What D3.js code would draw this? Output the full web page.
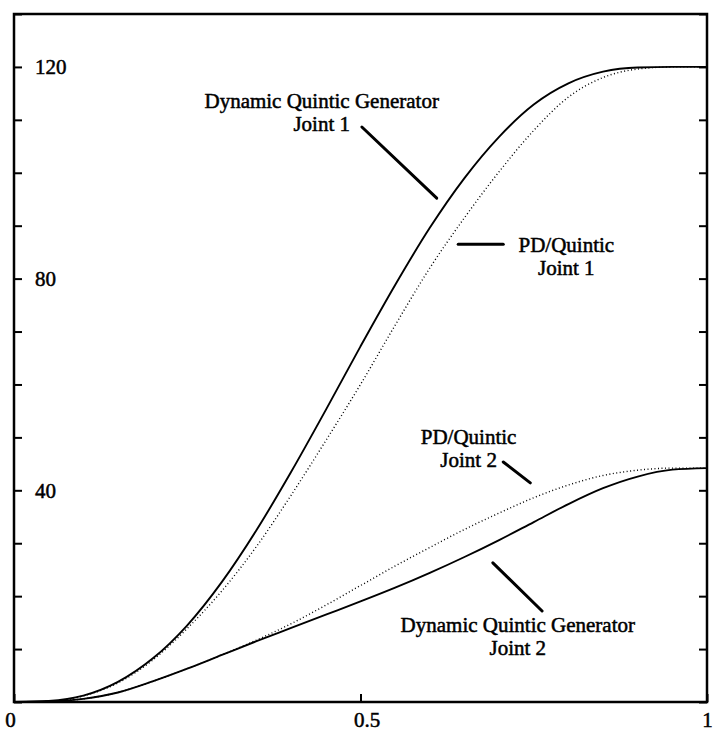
<!DOCTYPE html>
<html>
<head>
<meta charset="utf-8">
<script src="https://cdn.jsdelivr.net/npm/d3@7"></script>
<style>
  html, body { margin: 0; padding: 0; background: #fff; }
  svg text { font-family: "Liberation Serif", "Times New Roman", serif; fill: #000; }
</style>
</head>
<body>
<svg id="chart" width="728" height="732"></svg>
<script>
// time (normalised) samples
const times = [0, 0.05, 0.1, 0.15, 0.2, 0.25, 0.3, 0.35, 0.4, 0.45, 0.5,
               0.55, 0.6, 0.65, 0.7, 0.75, 0.8, 0.85, 0.9, 0.95, 1];

// joint angles
const dynJoint1 = [0, 0.2, 1.2, 3.8, 8.2, 14.5, 22.7, 32.5, 43.5, 55.2, 67.2,
                   78.8, 89.6, 99.0, 106.8, 112.9, 116.9, 119.1, 119.9, 120, 120];
const pdJoint1  = [0, 0.1, 1.15, 3.6, 7.9, 13.9, 21.0, 29.4, 39.1, 49.4, 60.0,
                   71.2, 82.0, 91.5, 100.2, 108.0, 114.3, 118.0, 119.6, 120, 120];
const dynJoint2 = [0, 0.1, 0.6, 1.8, 3.9, 6.3, 8.9, 11.5, 14.0, 16.5, 19.0,
                   21.6, 24.4, 27.4, 30.6, 34.0, 37.4, 40.4, 42.6, 43.9, 44.2];
const pdJoint2  = [0, 0.1, 0.6, 1.8, 3.9, 6.3, 8.9, 11.7, 14.8, 18.3, 22.0,
                   25.7, 29.2, 32.6, 35.7, 38.6, 41.0, 42.8, 43.8, 44.2, 44.2];

const xTicks = [0, 0.5, 1];
const yTicks = d3.range(0, 131, 10);
const yLabels = [40, 80, 120];

const svg = d3.select('#chart');
const m = {left: 14, right: 707, top: 14, bottom: 702};

const x = d3.scaleLinear().domain([0, 1]).range([m.left, m.right]);
const y = d3.scaleLinear().domain([0, 130]).range([m.bottom, m.top]);

// axes (ticks point inward)
const fmtX = d => d === 0 ? '0' : d === 1 ? '1' : d3.format('.1f')(d);

svg.append('g')
    .attr('transform', `translate(0,${m.bottom})`)
    .call(d3.axisBottom(x).tickValues(xTicks).tickSizeInner(-8).tickSizeOuter(0).tickPadding(10).tickFormat(fmtX))
    .call(g => g.select('.domain').remove())
    .call(g => g.selectAll('text').attr('font-size', 21).attr('font-family', null).attr('stroke', '#000').attr('stroke-width', 0.5))
    .call(g => g.selectAll('text').filter(d => d === 0).attr('dx', -4))
    .call(g => g.selectAll('text').filter(d => d === 0.5).attr('dx', 6))
    .call(g => g.selectAll('line').attr('stroke-width', 2));

svg.append('g')
    .attr('transform', `translate(${m.left},0)`)
    .call(d3.axisRight(y).tickValues(yTicks).tickSize(8).tickPadding(13)
        .tickFormat(d => yLabels.includes(d) ? d : ''))
    .call(g => g.select('.domain').remove())
    .call(g => g.selectAll('text').attr('font-size', 21).attr('font-family', null).attr('stroke', '#000').attr('stroke-width', 0.5))
    .call(g => g.selectAll('line').attr('stroke-width', 2));

svg.append('g')
    .attr('transform', `translate(${m.right},0)`)
    .call(d3.axisLeft(y).tickValues(yTicks).tickSize(8).tickFormat(''))
    .call(g => g.select('.domain').remove())
    .call(g => g.selectAll('line').attr('stroke-width', 2));

// frame
svg.append('rect')
    .attr('x', m.left).attr('y', m.top)
    .attr('width', m.right - m.left).attr('height', m.bottom - m.top)
    .attr('fill', 'none').attr('stroke', '#000').attr('stroke-width', 2.5);

// curves
const line = d3.line()
    .x((d, i) => x(times[i]))
    .y(d => y(d))
    .curve(d3.curveMonotoneX);

const series = [
    {vals: dynJoint1, dash: null, w: 1.9},
    {vals: pdJoint1, dash: '1,2.5', w: 1.4},
    {vals: dynJoint2, dash: null, w: 1.9},
    {vals: pdJoint2, dash: '1,2.5', w: 1.4}
];

svg.selectAll('path.curve')
    .data(series)
    .join('path')
    .attr('class', 'curve')
    .attr('d', d => line(d.vals))
    .attr('fill', 'none')
    .attr('stroke', '#000')
    .attr('stroke-width', d => d.w)
    .attr('stroke-dasharray', d => d.dash);

// annotations (in data units)
const notes = [
    {t: 0.444, v: 112.05, lines: ['Dynamic Quintic Generator', 'Joint 1']},
    {t: 0.797, v: 84.8, lines: ['PD/Quintic', 'Joint 1']},
    {t: 0.656, v: 48.6, lines: ['PD/Quintic', 'Joint 2']},
    {t: 0.727, v: 13.0, lines: ['Dynamic Quintic Generator', 'Joint 2']}
];
const leaders = [
    [[0.502, 108.65], [0.610, 95.2]],
    [[0.641, 86.5], [0.706, 86.5]],
    [[0.706, 45.35], [0.745, 41.4]],
    [[0.691, 26.3], [0.762, 17.2]]
];

// each note line is its own text element
const noteLines = notes.flatMap(n => n.lines.map((s, i) => ({t: n.t, v: n.v, s, i})));

svg.selectAll('text.note')
    .data(noteLines)
    .join('text')
    .attr('class', 'note')
    .attr('text-anchor', 'middle')
    .attr('font-size', 21)
    .attr('stroke', '#000')
    .attr('stroke-width', 0.5)
    .attr('x', d => x(d.t))
    .attr('y', d => y(d.v) + (d.i === 0 ? -1 : 22))
    .text(d => d.s);

svg.selectAll('line.leader')
    .data(leaders)
    .join('line')
    .attr('class', 'leader')
    .attr('x1', d => x(d[0][0])).attr('y1', d => y(d[0][1]))
    .attr('x2', d => x(d[1][0])).attr('y2', d => y(d[1][1]))
    .attr('stroke', '#000')
    .attr('stroke-width', 3)
    .attr('stroke-linecap', 'round');
</script>
</body>
</html>
